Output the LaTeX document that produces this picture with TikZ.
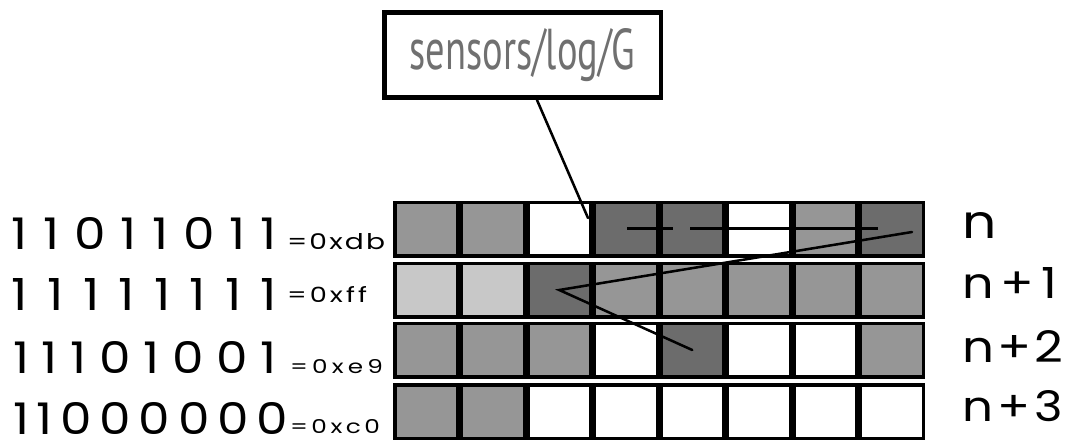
\documentclass[tikz,border=0pt]{standalone}
\usepackage{fontspec}
\usepackage{graphicx}
\setmainfont{Poppins}
\newfontfamily\pathfont{PT Sans}
% one drawing unit = one pixel of the final picture
\newlength\pxu
\setlength\pxu{0.75pt}
\newcommand\fitto[3]{\resizebox{#1\pxu}{#2\pxu}{#3}}
% \spreadtext[stretch]{width}{glyph height}{text}: sets the text at the size
% that gives the glyph height, widens each letter by the stretch factor and
% spaces the letters evenly to the width
\makeatletter
\newdimen\spreadgap
\newdimen\spreadsize
\def\spread@count#1{\ifx\relax#1\else\advance\count@\@ne\expandafter\spread@count\fi}
\def\spread@loop#1#2{\scalebox{\spreadfactor}[1]{#1}\ifx\relax#2\else\kern\spreadgap\spread@next{#2}\fi}
\def\spread@next#1#2\fi{\fi\spread@loop#1}
\newcommand\spreadtext[4][1.15]{%
  \begingroup
  \def\spreadfactor{#1}%
  \setbox\z@\hbox{\fontsize{100pt}{100pt}\selectfont #4}%
  \spreadsize=\dimexpr 100pt * \dimexpr #3\pxu\relax / \ht\z@\relax
  \fontsize{\the\spreadsize}{\the\spreadsize}\selectfont
  \setbox\z@\hbox{#4}%
  \count@=\z@ \spread@count#4\relax
  \ifnum\count@>\@ne
    \spreadgap=\dimexpr(#2\pxu-#1\wd\z@)/(\count@-1)\relax
  \else
    \spreadgap=\z@
  \fi
  \spread@loop#4\relax
  \endgroup}
\makeatother
\definecolor{bitM}{RGB}{150,150,150}
\definecolor{bitL}{RGB}{200,200,200}
\definecolor{bitD}{RGB}{108,108,108}
\definecolor{bitW}{RGB}{255,255,255}
\definecolor{pathgray}{RGB}{112,112,112}
\begin{document}
\begin{tikzpicture}[x=0.75pt,y=-0.75pt,
  cell/.style={draw=black, line width=2.625pt, minimum width=47.25pt,
    minimum height=40.125pt, inner sep=0pt, outer sep=0pt},
  lbl/.style={anchor=base west, inner sep=0pt, outer sep=0pt},
  pathbox/.style={draw=black, line width=3.4pt, minimum width=207.4pt,
    minimum height=64.1pt, inner sep=0pt},
  trace/.style={line width=1.9pt, line cap=round},
  walk/.style={line width=2.4pt}]
\useasboundingbox (0,0) rectangle (1071,440);

% the four bytes, one row of eight bit cells each
\foreach \row/\yc/\cols in {1/229/{M,M,W,D,D,W,M,D},
                            2/290/{L,L,D,M,M,M,M,M},
                            3/350/{M,M,M,W,D,W,W,M},
                            4/411.5/{M,M,W,W,W,W,W,W}}{
  \foreach \c [count=\k] in \cols {
    \node[cell, fill=bit\c] (c\row\k) at ({426.25+66.5*(\k-1)},\yc) {};
  }
}

% binary values with their hex form
\node[lbl] (b1) at (12,249) {\spreadtext{265}{32}{11011011}};
\node[lbl] (h1) at (287,249) {\spreadtext[1.3]{98}{16}{=0xdb}};
\node[lbl] (b2) at (12,310) {\spreadtext{265}{32}{11111111}};
\node[lbl] (h2) at (287,302) {\spreadtext[1.3]{80}{16}{=0xff}};
\node[lbl] (b3) at (13,373) {\spreadtext{264}{32}{11101001}};
\node[lbl] (h3) at (290,373) {\spreadtext[1.3]{93}{14}{=0xe9}};
\node[lbl] (b4) at (13,434) {\spreadtext{275}{32}{11000000}};
\node[lbl] (h4) at (290,433) {\spreadtext[1.3]{90}{14}{=0xc0}};

% byte offsets
\node[lbl] (n0) at (962,238) {\spreadtext{28}{26}{n}};
\node[lbl] (n1) at (962,298) {\spreadtext{95}{31}{n+1}};
\node[lbl] (n2) at (962,362) {\spreadtext{101}{32}{n+2}};
\node[lbl] (n3) at (962,421) {\spreadtext{101}{31}{n+3}};

% path name
\node[pathbox] (box) at (522.5,55)
  {\pathfont\color{pathgray}\fitto{226}{41}{sensors/log/G}};

% walk through the bits
\coordinate (tap) at (537,100);
\coordinate (entry) at (588,218);
\coordinate (h1s) at (627,228.5);
\coordinate (h1e) at (673,228.5);
\coordinate (h2s) at (690,228.5);
\coordinate (h2e) at (878,228.5);
\coordinate (z0) at (912,232);
\draw[trace] (tap) -- (entry);
\draw[walk] (h1s) -- (h1e);
\draw[walk] (h2s) -- (h2e);
\draw[trace] (z0) -- (c23.center) -- (c35.center);
\end{tikzpicture}
\end{document}
